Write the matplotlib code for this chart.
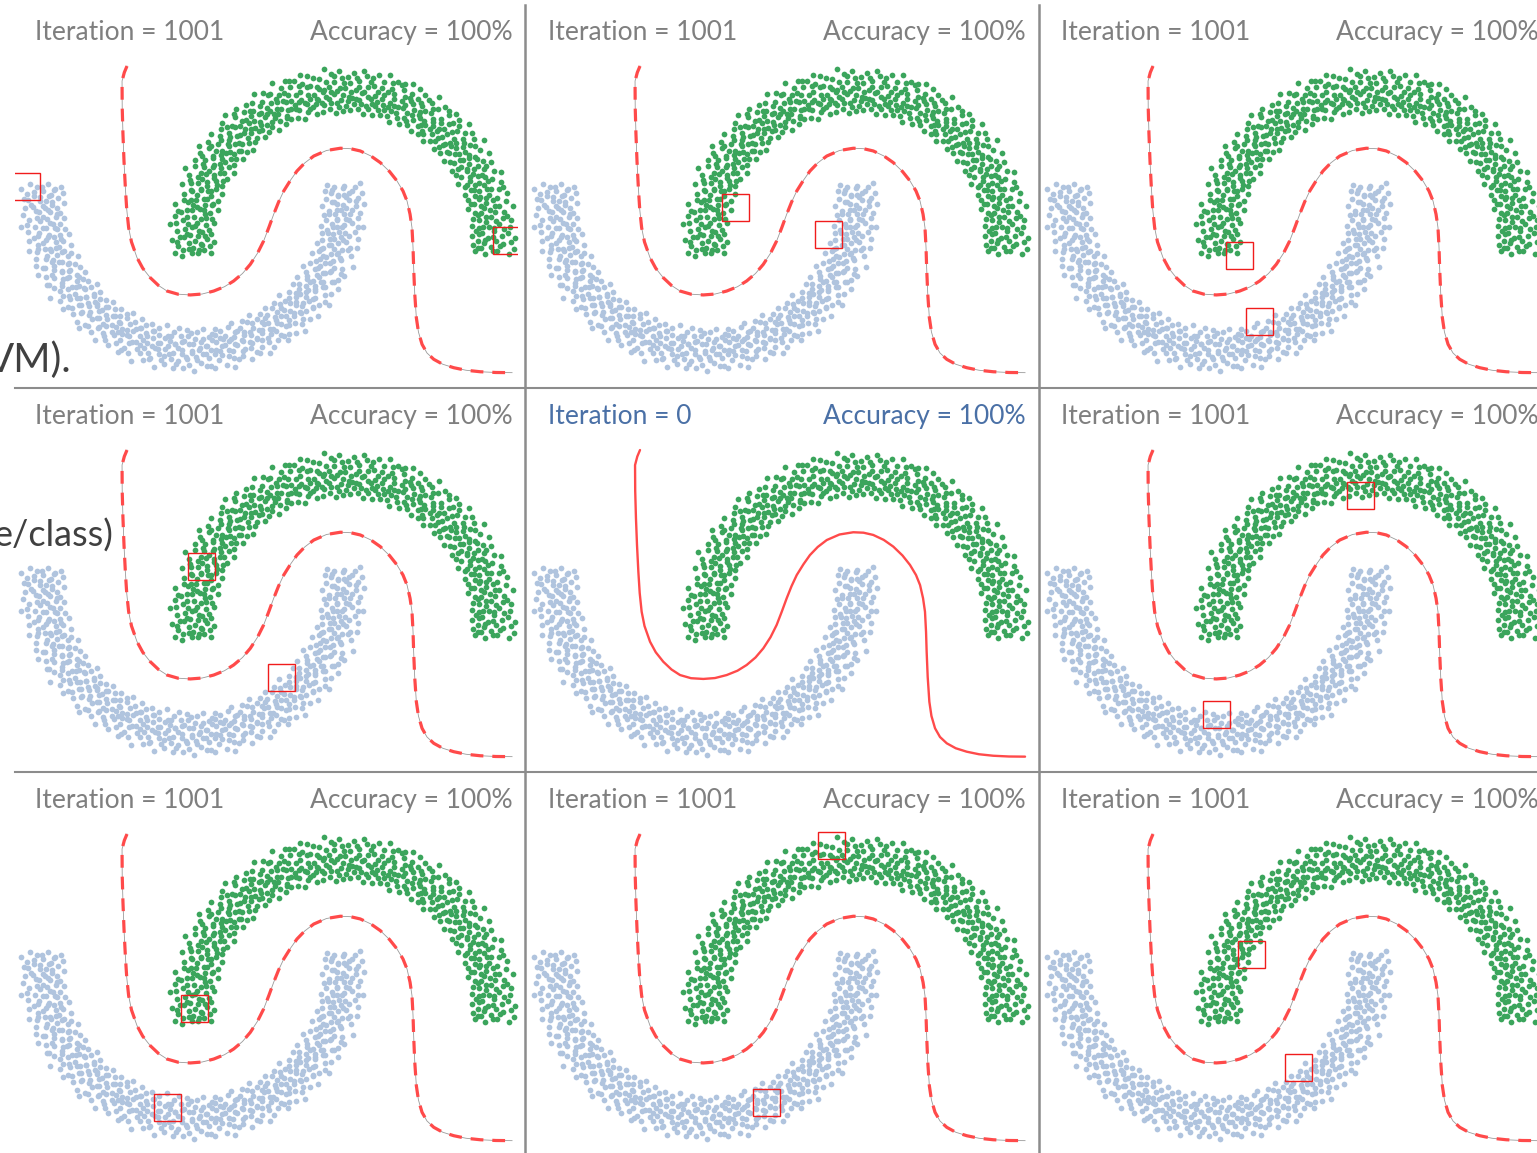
import numpy as np
import matplotlib
matplotlib.use('Agg')
import matplotlib.pyplot as plt
from matplotlib.lines import Line2D
from matplotlib.patches import Rectangle

plt.rcParams['font.family'] = ['Lato', 'DejaVu Sans']

# moon points as (angle in degrees, distance from moon centre)
green_pts = [
    (-4.8, .95), (-4.3, 1.11), (-3.9, .88), (-3.4, 1.03), (-2.7, .92), (-2.2, 1.14), (-1.8, .99), (-1.1, .87), (-0.7, 1.07), (-0.3, .94),
    (0.3, 1.02), (0.6, .90), (1.2, 1.15), (1.6, .97), (2.3, 1.06), (2.7, .86), (3.1, 1.10), (3.8, .93), (4.2, 1.01), (4.7, .89),
    (5.1, 1.12), (5.7, .98), (6.0, .91), (6.6, 1.05), (7.2, .87), (7.5, 1.13), (8.1, .96), (8.6, 1.08), (9.2, .92), (9.6, 1.00),
    (10.2, .88), (10.5, 1.09), (11.1, 1.03), (11.7, .94), (12.0, 1.16), (12.6, .90), (13.3, 1.04), (13.7, .97), (14.1, 1.12), (14.8, .86),
    (15.2, .99), (15.9, 1.07), (16.3, .91), (16.8, 1.14), (17.4, .95), (17.8, 1.02), (18.5, .88), (18.9, 1.10), (19.4, .93), (19.8, 1.05),
    (20.4, .97), (20.8, 1.13), (21.3, .87), (21.9, 1.01), (22.2, .92), (22.9, 1.08), (23.3, .96), (23.8, 1.15), (24.4, .89), (24.7, 1.04),
    (25.3, 1.11), (25.6, .94), (26.2, 1.00), (26.9, .86), (27.3, 1.06), (27.7, .98), (28.4, 1.12), (28.8, .90), (29.3, 1.03), (29.9, .95),
    (30.1, 1.08), (30.7, .88), (31.2, 1.14), (31.6, .99), (32.3, .93), (32.8, 1.05), (33.2, .87), (33.9, 1.10), (34.3, .97), (34.8, 1.02),
    (35.4, .91), (35.8, 1.16), (36.3, 1.01), (36.7, .89), (37.4, 1.07), (37.9, .95), (38.2, 1.11), (38.8, .86), (39.3, 1.04), (39.7, .98),
    (40.2, 1.13), (40.9, .92), (41.3, 1.00), (41.8, 1.09), (42.4, .88), (42.7, .97), (43.3, 1.15), (43.9, .94), (44.2, 1.06), (44.8, .90),
    (45.3, 1.03), (45.7, .87), (46.4, 1.12), (46.8, .96), (47.1, 1.08), (47.7, .91), (48.3, 1.01), (48.6, 1.14), (49.2, .89), (49.8, .99),
    (50.1, 1.10), (50.6, .93), (51.3, 1.05), (51.7, .86), (52.2, .98), (52.9, 1.13), (53.4, .90), (53.8, 1.02), (54.3, 1.09), (54.9, .95),
    (55.2, .88), (55.8, 1.07), (56.1, .97), (56.7, 1.16), (57.3, .92), (57.8, 1.03), (58.4, .87), (58.7, 1.11), (59.1, .99), (59.7, 1.05),
    (60.3, .94), (60.8, 1.12), (61.2, .89), (61.9, 1.00), (62.3, 1.08), (62.6, .91), (63.4, 1.14), (63.8, .96), (64.3, 1.04), (64.7, .87),
    (65.2, 1.06), (65.9, .98), (66.2, 1.15), (66.6, .90), (67.3, 1.02), (67.8, .93), (68.2, 1.09), (68.9, .86), (69.3, 1.12), (69.6, .97),
    (70.4, 1.01), (70.7, .89), (71.2, 1.13), (71.8, .95), (72.1, 1.07), (72.7, .92), (73.4, 1.04), (73.8, .88), (74.2, 1.16), (74.9, .99),
    (75.1, .91), (75.6, 1.10), (76.3, .96), (76.9, 1.03), (77.2, .87), (77.8, 1.14), (78.3, .94), (78.6, 1.06), (79.3, .90), (79.7, 1.11),
    (80.2, .98), (80.8, 1.05), (81.3, .86), (81.7, 1.12), (82.4, .93), (82.8, 1.00), (83.1, 1.15), (83.7, .89), (84.4, 1.08), (84.8, .96),
    (85.3, 1.02), (85.6, .92), (86.2, 1.13), (86.9, .88), (87.3, 1.06), (87.7, .97), (88.4, 1.10), (88.9, .91), (89.2, 1.03), (89.8, .87),
    (90.3, 1.09), (90.7, .95), (91.4, 1.14), (91.8, .90), (92.2, 1.01), (92.9, .86), (93.3, 1.07), (93.6, .99), (94.2, 1.12), (94.8, .93),
    (95.1, 1.04), (95.8, .89), (96.3, 1.16), (96.7, .97), (97.2, 1.02), (97.9, .92), (98.3, 1.10), (98.7, .88), (99.4, 1.05), (99.8, .96),
    (100.4, 1.11), (100.9, .94), (101.2, 1.00), (101.6, .87), (102.3, 1.13), (102.8, .98), (103.2, 1.06), (103.9, .91), (104.3, 1.15), (104.7, .95),
    (105.2, .90), (105.7, 1.08), (106.4, .99), (106.8, 1.12), (107.1, .86), (107.7, 1.03), (108.3, .93), (108.9, 1.09), (109.2, .97), (109.8, 1.14),
    (110.1, .88), (110.6, 1.05), (111.3, .95), (111.9, 1.11), (112.2, 1.01), (112.7, .89), (113.4, 1.07), (113.8, .92), (114.1, 1.16), (114.8, .98),
    (115.3, 1.03), (115.7, .87), (116.2, 1.10), (116.9, .96), (117.3, 1.04), (117.6, .91), (118.2, 1.13), (118.8, .94), (119.3, 1.00), (119.9, .86),
    (120.2, 1.08), (120.8, .99), (121.1, 1.15), (121.7, .90), (122.4, 1.02), (122.8, .93), (123.2, 1.11), (123.9, .88), (124.3, 1.06), (124.6, .97),
    (125.3, 1.12), (125.8, .92), (126.1, 1.04), (126.7, .87), (127.4, 1.09), (127.8, .96), (128.2, 1.01), (128.9, 1.14), (129.3, .90), (129.7, 1.05),
    (130.1, .95), (130.8, 1.10), (131.3, .89), (131.6, 1.03), (132.2, .98), (132.9, 1.16), (133.4, .91), (133.7, 1.07), (134.3, .86), (134.8, 1.00),
    (135.4, 1.13), (135.9, .94), (136.2, 1.05), (136.8, .88), (137.3, 1.11), (137.7, .97), (138.1, 1.02), (138.8, .92), (139.2, 1.08), (139.9, .99),
    (140.3, .87), (140.7, 1.14), (141.4, .96), (141.8, 1.06), (142.2, .90), (142.9, 1.01), (143.3, 1.12), (143.6, .93), (144.2, 1.04), (144.8, .89),
    (145.1, 1.09), (145.6, .98), (146.3, 1.15), (146.9, .91), (147.2, 1.03), (147.8, .86), (148.4, 1.10), (148.7, .95), (149.3, 1.07), (149.8, .92),
    (150.2, 1.00), (150.9, 1.13), (151.3, .88), (151.7, 1.05), (152.4, .97), (152.8, 1.11), (153.1, .90), (153.7, 1.02), (154.4, .94), (154.9, 1.16),
    (155.2, .89), (155.8, 1.06), (156.3, .99), (156.6, 1.12), (157.2, .92), (157.9, 1.04), (158.3, .87), (158.8, 1.09), (159.4, .96), (159.7, 1.01),
    (160.3, 1.14), (160.8, .93), (161.1, 1.07), (161.7, .88), (162.3, 1.02), (162.9, .97), (163.2, 1.11), (163.6, .90), (164.4, 1.05), (164.8, .95),
    (165.1, 1.10), (165.7, .86), (166.2, 1.03), (166.9, .98), (167.3, 1.15), (167.8, .91), (168.4, 1.06), (168.7, .94), (169.2, 1.12), (169.9, .89),
    (170.4, 1.01), (170.8, .96), (171.3, 1.13), (171.7, .87), (172.2, 1.08), (172.9, .92), (173.3, 1.04), (173.8, .99), (174.1, 1.16), (174.7, .90),
    (175.2, 1.06), (175.9, .94), (176.3, 1.11), (176.6, .88), (177.2, 1.02), (177.8, .97), (178.4, 1.09), (178.9, .91), (179.3, 1.14), (179.8, .86),
    (180.3, 1.03), (180.7, .95), (181.4, 1.10), (181.8, .89), (182.2, 1.00), (182.9, 1.07), (183.3, .93), (183.7, 1.12), (184.2, .97), (184.6, .88),
]
green_pts_extra = [
    (-3.6, 1.00), (-2.5, .90), (-1.4, 1.05), (-0.1, 1.12), (0.9, .95), (1.9, 1.00), (3.4, .91), (4.5, 1.08), (5.4, 1.01), (6.3, .94),
    (7.9, 1.03), (8.9, 1.11), (9.9, .97), (11.4, .92), (12.3, 1.00), (13.0, 1.07), (14.5, .95), (15.6, 1.04), (16.5, .89), (17.2, 1.00),
    (18.2, .96), (19.1, 1.13), (20.1, 1.02), (21.6, .94), (22.6, 1.05), (23.5, .99), (24.9, .91), (25.9, 1.03), (27.0, .95), (28.1, 1.08),
    (29.0, 1.00), (30.4, .96), (31.9, 1.05), (32.5, .91), (33.6, 1.01), (35.0, .95), (36.0, 1.09), (37.1, .97), (38.5, 1.02), (39.9, .92),
    (40.6, 1.05), (41.6, .96), (43.0, 1.01), (44.0, .93), (45.0, 1.09), (46.1, 1.00), (47.4, .94), (48.0, 1.06), (49.5, .97), (50.4, 1.03),
    (51.0, 1.12), (52.6, .95), (53.1, 1.00), (54.6, .91), (55.5, 1.04), (56.4, .94), (57.5, 1.10), (58.1, .97), (59.4, 1.01), (60.6, 1.06),
    (61.5, .96), (62.9, 1.03), (63.6, .92), (64.9, 1.09), (65.6, 1.00), (66.9, 1.05), (68.0, .97), (68.5, 1.13), (69.9, .93), (71.0, 1.04),
    (71.5, .98), (72.4, 1.11), (73.6, .95), (74.5, 1.02), (75.9, 1.06), (76.6, .93), (77.5, 1.00), (78.9, .97), (80.0, 1.08), (80.5, .92),
    (81.9, 1.01), (83.4, .95), (84.1, 1.04), (85.0, 1.10), (86.5, .96), (87.0, 1.00), (88.1, .94), (89.5, 1.06), (90.0, .98), (91.1, 1.03),
    (92.5, .93), (93.0, 1.11), (94.5, 1.00), (95.4, .96), (96.0, 1.07), (97.5, 1.01), (98.5, .94), (99.1, 1.03), (100.1, .97), (101.9, 1.06),
    (102.5, .92), (103.5, 1.01), (104.5, 1.09), (105.5, .96), (106.1, 1.04), (107.4, .98), (108.6, 1.13), (109.5, .94), (110.4, 1.00), (111.6, 1.07),
    (112.5, .95), (113.1, 1.02), (114.4, .91), (115.0, 1.05), (116.5, .99), (117.0, 1.10), (118.5, .97), (119.6, 1.03), (120.5, .93), (121.4, 1.06),
    (122.1, .98), (123.5, 1.02), (124.9, .95), (125.5, 1.07), (126.4, 1.00), (127.1, .93), (128.5, 1.04), (129.0, .97), (130.4, 1.12), (131.0, 1.00),
    (132.5, .94), (133.1, 1.05), (134.0, .99), (135.1, 1.09), (136.5, .96), (137.0, 1.03), (138.4, .91), (139.5, 1.01), (140.0, 1.06), (141.1, .93),
    (142.5, .98), (143.9, 1.09), (144.5, 1.00), (145.9, .95), (146.6, 1.04), (147.5, .97), (148.1, 1.12), (149.0, 1.00), (150.5, .94), (151.0, 1.07),
    (152.1, 1.01), (153.4, .96), (154.1, 1.05), (155.5, .92), (156.0, 1.03), (157.5, .98), (158.1, 1.10), (159.0, .94), (160.0, 1.01), (161.4, 1.06),
    (162.6, .95), (163.9, 1.02), (164.1, .91), (165.4, 1.07), (166.5, 1.00), (167.0, .95), (168.1, 1.03), (169.5, 1.10), (170.1, .93), (171.0, 1.05),
    (172.5, .98), (173.5, 1.12), (174.4, 1.01), (175.5, .96), (176.9, 1.04), (177.5, .92), (178.1, 1.06), (179.5, .99), (180.0, 1.11), (181.1, .94),
    (182.5, 1.03), (183.0, .96), (184.0, 1.01), (184.9, 1.08),
]
blue_pts = [
    (174.3, .97), (174.9, 1.09), (175.2, .88), (175.8, 1.04), (176.4, .93), (176.7, 1.15), (177.1, 1.00), (177.8, .87), (178.3, 1.11), (178.6, .95),
    (179.2, 1.06), (179.7, .90), (180.3, 1.13), (180.8, .98), (181.1, 1.02), (181.9, .86), (182.2, 1.08), (182.6, .94), (183.4, 1.12), (183.8, .99),
    (184.1, .91), (184.7, 1.05), (185.3, .96), (185.6, 1.14), (186.2, .89), (186.9, 1.01), (187.4, 1.10), (187.8, .92), (188.3, 1.03), (188.7, .87),
    (189.4, 1.16), (189.8, .97), (190.2, 1.07), (190.9, .90), (191.3, 1.00), (191.6, 1.12), (192.2, .94), (192.8, 1.05), (193.3, .88), (193.9, 1.09),
    (194.2, .99), (194.6, 1.13), (195.3, .92), (195.9, 1.02), (196.1, .86), (196.8, 1.08), (197.4, .96), (197.7, 1.15), (198.3, .91), (198.8, 1.04),
    (199.1, 1.10), (199.8, .95), (200.3, 1.01), (200.7, .87), (201.2, 1.12), (201.9, .93), (202.4, 1.06), (202.7, .98), (203.2, 1.14), (203.9, .89),
    (204.3, 1.03), (204.6, .92), (205.2, 1.09), (205.8, .97), (206.4, 1.15), (206.7, .86), (207.3, 1.04), (207.9, .94), (208.2, 1.11), (208.8, 1.00),
    (209.1, .90), (209.7, 1.07), (210.4, .96), (210.8, 1.13), (211.3, .88), (211.6, 1.02), (212.2, .99), (212.9, 1.10), (213.4, .93), (213.8, 1.05),
    (214.2, .87), (214.9, 1.16), (215.3, .95), (215.7, 1.03), (216.4, .91), (216.8, 1.08), (217.1, .98), (217.7, 1.12), (218.3, .89), (218.9, 1.01),
    (219.2, 1.06), (219.6, .94), (220.3, 1.14), (220.9, .90), (221.4, 1.00), (221.7, .86), (222.2, 1.09), (222.8, .97), (223.3, 1.04), (223.9, .92),
    (224.1, 1.11), (224.8, .99), (225.2, .88), (225.7, 1.07), (226.3, .95), (226.9, 1.13), (227.2, .91), (227.8, 1.02), (228.4, .96), (228.7, 1.15),
    (229.3, .89), (229.9, 1.05), (230.2, .98), (230.6, 1.10), (231.3, .93), (231.8, 1.01), (232.4, .87), (232.7, 1.12), (233.1, .97), (233.9, 1.06),
    (234.2, 1.03), (234.8, .90), (235.3, 1.15), (235.7, .95), (236.1, 1.08), (236.8, .88), (237.4, 1.00), (237.9, 1.11), (238.3, .92), (238.6, 1.04),
    (239.2, .96), (239.9, 1.13), (240.3, .89), (240.7, 1.02), (241.4, .99), (241.8, 1.09), (242.1, .86), (242.7, 1.06), (243.3, .94), (243.9, 1.14),
    (244.2, 1.01), (244.8, .91), (245.3, 1.10), (245.6, .97), (246.2, 1.05), (246.9, .87), (247.3, 1.12), (247.7, .93), (248.4, 1.03), (248.8, .98),
    (249.1, 1.16), (249.7, .90), (250.3, 1.04), (250.9, .95), (251.2, 1.09), (251.8, .88), (252.4, 1.01), (252.7, 1.13), (253.3, .92), (253.8, 1.07),
    (254.1, .97), (254.7, 1.11), (255.4, .89), (255.8, 1.03), (256.2, .94), (256.9, 1.15), (257.3, .99), (257.6, 1.06), (258.2, .86), (258.9, 1.10),
    (259.3, 1.02), (259.8, .93), (260.1, 1.12), (260.7, .96), (261.4, 1.05), (261.9, .90), (262.2, 1.08), (262.8, .98), (263.3, 1.14), (263.7, .87),
    (264.4, 1.00), (264.8, 1.09), (265.2, .92), (265.9, 1.04), (266.3, .95), (266.6, 1.13), (267.2, .88), (267.9, 1.07), (268.3, .97), (268.7, 1.11),
    (269.2, .90), (269.8, 1.03), (270.4, 1.15), (270.7, .94), (271.1, 1.06), (271.8, .89), (272.3, 1.01), (272.9, 1.10), (273.2, .96), (273.6, 1.04),
    (274.3, .87), (274.9, 1.12), (275.2, .99), (275.8, 1.07), (276.4, .93), (276.7, 1.02), (277.3, 1.14), (277.8, .91), (278.1, 1.05), (278.9, .97),
    (279.3, 1.09), (279.6, .88), (280.2, 1.03), (280.9, .95), (281.4, 1.13), (281.7, .90), (282.3, 1.00), (282.8, 1.08), (283.2, .94), (283.9, 1.16),
    (284.2, .98), (284.7, 1.05), (285.3, .89), (285.9, 1.11), (286.4, .96), (286.8, 1.02), (287.1, .87), (287.7, 1.10), (288.3, .93), (288.9, 1.06),
    (289.4, 1.01), (289.8, .92), (290.2, 1.14), (290.6, .97), (291.3, 1.07), (291.9, .88), (292.2, 1.04), (292.8, .99), (293.4, 1.12), (293.7, .90),
    (294.3, 1.03), (294.9, .95), (295.1, 1.09), (295.7, .86), (296.4, 1.15), (296.8, .98), (297.2, 1.01), (297.9, .91), (298.3, 1.06), (298.6, 1.13),
    (299.2, .94), (299.8, 1.04), (300.3, .89), (300.9, 1.10), (301.2, .97), (301.7, 1.02), (302.4, .92), (302.8, 1.08), (303.3, .87), (303.9, 1.14),
    (304.1, 1.00), (304.7, .96), (305.3, 1.11), (305.8, .90), (306.2, 1.05), (306.9, .98), (307.4, 1.13), (307.7, .88), (308.2, 1.03), (308.8, .94),
    (309.3, 1.07), (309.6, .91), (310.2, 1.16), (310.9, .99), (311.3, 1.02), (311.7, .86), (312.4, 1.09), (312.8, .95), (313.1, 1.04), (313.9, .92),
    (314.3, 1.12), (314.8, .97), (315.2, 1.06), (315.7, .89), (316.4, 1.01), (316.8, 1.14), (317.3, .93), (317.9, 1.08), (318.2, .96), (318.6, 1.03),
    (319.4, .88), (319.9, 1.10), (320.3, .98), (320.7, 1.05), (321.2, .91), (321.9, 1.15), (322.3, .95), (322.8, 1.02), (323.1, .87), (323.7, 1.09),
    (324.3, 1.00), (324.9, .93), (325.2, 1.12), (325.6, .97), (326.3, 1.06), (326.8, .90), (327.4, 1.03), (327.9, .99), (328.2, 1.14), (328.7, .86),
    (329.1, 1.08), (329.8, .94), (330.4, 1.01), (330.8, 1.11), (331.3, .89), (331.7, 1.04), (332.2, .96), (332.9, 1.13), (333.3, .92), (333.8, 1.05),
    (334.1, .98), (334.7, 1.10), (335.4, .87), (335.8, 1.02), (336.2, .95), (336.9, 1.16), (337.3, .91), (337.6, 1.07), (338.2, .99), (338.8, 1.03),
    (339.3, .93), (339.9, 1.12), (340.2, .88), (340.8, 1.05), (341.4, .97), (341.7, 1.09), (342.3, .90), (342.9, 1.01), (343.2, 1.14), (343.6, .95),
    (344.2, 1.06), (344.8, .89), (345.3, 1.02), (345.9, .96), (346.1, 1.13), (346.7, .92), (347.4, 1.04), (347.8, .87), (348.3, 1.10), (348.9, .98),
    (349.2, 1.01), (349.7, .94), (350.4, 1.15), (350.8, .90), (351.1, 1.07), (351.9, .97), (352.3, 1.03), (352.6, .88), (353.2, 1.11), (353.8, .95),
    (354.3, 1.05), (354.9, .91), (355.2, 1.12), (355.7, .99), (356.4, 1.02), (356.8, .86), (357.3, 1.09), (357.9, .96), (358.2, 1.14), (358.7, .93),
    (359.4, 1.04), (359.8, .89), (360.3, 1.10), (360.9, .97), (361.2, 1.01), (361.7, 1.13), (362.4, .92), (362.8, 1.06), (363.3, .88), (363.9, 1.00),
    (364.2, 1.08), (364.6, .94), (365.3, 1.12), (365.8, .90),
]
blue_pts_extra = [
    (175.5, 1.01), (176.1, .92), (177.5, 1.06), (178.9, .96), (179.5, 1.02), (180.6, 1.10), (181.5, .94), (182.9, 1.00), (183.1, 1.07), (184.4, .97),
    (185.0, 1.03), (186.5, .91), (187.1, 1.05), (188.0, .98), (189.0, 1.12), (190.5, .95), (191.0, 1.02), (192.5, .93), (193.6, 1.06), (194.9, 1.00),
    (195.6, .96), (196.5, 1.04), (197.1, .92), (198.0, 1.09), (199.5, 1.01), (200.0, .97), (201.6, 1.05), (202.1, .94), (203.5, 1.02), (204.9, 1.10),
    (205.5, .99), (206.0, 1.03), (207.6, .93), (208.5, 1.07), (209.5, 1.00), (210.1, .95), (211.0, 1.12), (212.5, .98), (213.0, 1.04), (214.6, .92),
    (215.0, 1.08), (216.1, 1.00), (217.4, .96), (218.1, 1.05), (219.9, .94), (220.6, 1.02), (221.0, 1.10), (222.5, .97), (223.6, 1.03), (224.5, .93),
    (225.5, 1.06), (226.0, 1.00), (227.5, .95), (228.1, 1.04), (229.6, 1.11), (230.9, .96), (231.1, 1.02), (232.0, .92), (233.5, 1.07), (234.5, .99),
    (235.9, 1.03), (236.5, .94), (237.0, 1.09), (238.9, 1.00), (239.5, .96), (240.0, 1.05), (241.1, .91), (242.4, 1.02), (243.5, .98), (244.5, 1.12),
    (245.0, 1.01), (246.5, .95), (247.0, 1.04), (248.1, .93), (249.5, 1.07), (250.5, 1.00), (251.5, .97), (252.0, 1.05), (253.6, .92), (254.4, 1.02),
    (255.0, 1.10), (256.5, .99), (257.0, 1.03), (258.6, .95), (259.5, 1.07), (260.4, 1.00), (261.1, .93), (262.5, 1.04), (263.0, .98), (264.1, 1.11),
    (265.5, .96), (266.0, 1.01), (267.6, 1.06), (268.0, .92), (269.5, 1.02), (270.0, .97), (271.5, 1.08), (272.5, 1.00), (273.9, .94), (274.6, 1.04),
    (275.5, .99), (276.1, 1.12), (277.6, .95), (278.5, 1.02), (279.0, .92), (280.5, 1.06), (281.0, 1.00), (282.0, .96), (283.5, 1.04), (284.4, 1.10),
    (285.0, .97), (286.1, 1.01), (287.5, .93), (288.0, 1.07), (289.1, 1.00), (290.9, .95), (291.6, 1.03), (292.5, 1.11), (293.1, .97), (294.6, 1.02),
    (295.5, .92), (296.1, 1.05), (297.5, .99), (298.0, 1.08), (299.5, .96), (300.6, 1.01), (301.0, .93), (302.1, 1.04), (303.6, 1.10), (304.5, .98),
    (305.0, 1.02), (306.5, .94), (307.1, 1.06), (308.5, 1.00), (309.0, .96), (310.6, 1.03), (311.0, 1.11), (312.0, .92), (313.5, 1.05), (314.0, .99),
    (315.5, 1.02), (316.0, .95), (317.6, 1.08), (318.9, 1.00), (319.6, .93), (320.0, 1.04), (321.6, .98), (322.0, 1.12), (323.5, 1.01), (324.6, .96),
    (325.9, 1.05), (326.0, .92), (327.1, 1.02), (328.5, .97), (329.4, 1.09), (330.0, 1.00), (331.0, .95), (332.5, 1.04), (333.0, 1.11), (334.4, .94),
    (335.0, 1.01), (336.5, .97), (337.9, 1.06), (338.5, .92), (339.5, 1.03), (340.4, 1.00), (341.0, .96), (342.5, 1.10), (343.9, .98), (344.5, 1.04),
    (345.5, .93), (346.4, 1.07), (347.0, 1.00), (348.5, .95), (349.9, 1.02), (350.1, 1.12), (351.4, .97), (352.0, 1.05), (353.5, .91), (354.1, 1.01),
    (355.5, .96), (356.0, 1.06), (357.6, 1.00), (358.5, .94), (359.0, 1.09), (360.6, 1.02), (361.5, .97), (362.0, 1.04), (363.6, .93), (364.9, 1.01),
]
green_center = (0.0, 0.0)
blue_center = (-1.0, 0.29)

# decision boundary
boundary = [
    (-1.44, 1.173), (-1.458, 1.13), (-1.473, 1.073), (-1.472, 0.9), (-1.467, 0.72), (-1.46, 0.54),
    (-1.451, 0.362), (-1.442, 0.22), (-1.429, 0.095), (-1.41, 0.0), (-1.373, -0.105), (-1.335, -0.175),
    (-1.285, -0.238), (-1.23, -0.29), (-1.173, -0.327), (-1.10, -0.348), (-1.018, -0.353), (-0.94, -0.347),
    (-0.862, -0.327), (-0.79, -0.298), (-0.729, -0.26), (-0.67, -0.21), (-0.618, -0.149), (-0.57, -0.075),
    (-0.529, 0.007), (-0.495, 0.095), (-0.462, 0.185), (-0.43, 0.265), (-0.395, 0.34), (-0.35, 0.412),
    (-0.307, 0.473), (-0.255, 0.527), (-0.195, 0.573), (-0.11, 0.61), (-0.018, 0.625), (0.05, 0.622),
    (0.115, 0.607), (0.185, 0.574), (0.249, 0.529), (0.31, 0.47), (0.36, 0.407), (0.40, 0.34),
    (0.427, 0.273), (0.447, 0.185), (0.46, 0.095), (0.467, -0.04), (0.471, -0.171), (0.478, -0.34),
    (0.489, -0.505), (0.503, -0.6), (0.527, -0.682), (0.56, -0.74), (0.605, -0.782), (0.665, -0.815),
    (0.738, -0.838), (0.82, -0.855), (0.915, -0.865), (1.02, -0.87), (1.127, -0.871),
]

iterations = [[1001, 1001, 1001], [1001, 0, 1001], [1001, 1001, 1001]]
accuracy = [[100, 100, 100], [100, 100, 100], [100, 100, 100]]

# centres of the red boxes in every panel (row, col)
boxes = {
    (0, 0): [(-2.113, 0.37), (1.09, 0.01)],
    (0, 1): [(-0.803, 0.23), (-0.183, 0.05)],
    (0, 2): [(-0.863, -0.087), (-0.73, -0.53)],
    (1, 0): [(-0.943, 0.397), (-0.41, -0.343)],
    (1, 1): [],
    (1, 2): [(-0.057, 0.87), (-1.017, -0.59)],
    (2, 0): [(-0.987, 0.007), (-1.169, -0.65)],
    (2, 1): [(-0.163, 1.097), (-0.597, -0.617)],
    (2, 2): [(-0.783, 0.37), (-0.47, -0.383)],
}
box_size = 0.18


def to_xy(pts, center):
    a = np.radians([p[0] for p in pts])
    r = np.array([p[1] for p in pts])
    return center[0] + r * np.cos(a), center[1] + r * np.sin(a)


gx, gy = to_xy(green_pts + green_pts_extra, green_center)
bx, by = to_xy(blue_pts + blue_pts_extra, blue_center)
lx = [p[0] for p in boundary]
ly = [p[1] for p in boundary]

W, H = 1537, 1153
fig = plt.figure(figsize=(W / 100, H / 100), dpi=100)
fig.patch.set_facecolor('white')

gray = '#7f7f7f'
blue_txt = '#4a70a6'
for r in range(3):
    for c in range(3):
        x0 = 513 * c
        y0 = 384 * r
        ax = fig.add_axes([(x0 + 15) / W, 1 - (y0 + 384) / H, 503 / W, 384 / H])
        ax.set_xlim(-2.1867, 1.1667)
        ax.set_ylim(-0.9467, 1.6133)
        ax.axis('off')
        ax.scatter(bx, by, s=17, color='#b0c4de', linewidths=0, zorder=2)
        ax.scatter(gx, gy, s=17, color='#3ba55c', linewidths=0, zorder=2)
        center = (r == 1 and c == 1)
        if center:
            ax.plot(lx, ly, color='#ff4a4a', lw=1.7, zorder=3,
                    solid_capstyle='round', solid_joinstyle='round')
        else:
            ax.plot(lx, ly, color='#9a9a9a', lw=0.6, zorder=3)
            ax.plot(lx, ly, color='#ff4a4a', lw=2.3, zorder=4, dashes=(4.0, 2.8))
        for bxc, byc in boxes[(r, c)]:
            ax.add_patch(Rectangle((bxc - box_size / 2, byc - box_size / 2), box_size, box_size,
                                   fill=False, edgecolor='#f01c1c', lw=1.0, zorder=5))
        col = blue_txt if center else gray
        fig.text((x0 + 35) / W, 1 - (y0 + 40) / H, f'Iteration = {iterations[r][c]}',
                 ha='left', va='baseline', fontsize=19, color=col)
        fig.text((x0 + 513) / W, 1 - (y0 + 40) / H, f'Accuracy = {accuracy[r][c]}%',
                 ha='right', va='baseline', fontsize=19, color=col)

# panel dividers
for xv in [525, 1039]:
    fig.add_artist(Line2D([xv / W, xv / W], [1 - 5 / H, 0], transform=fig.transFigure,
                          color='#8c8c8c', lw=1.8))
for yh in [388, 772]:
    fig.add_artist(Line2D([15 / W, 1], [1 - yh / H, 1 - yh / H], transform=fig.transFigure,
                          color='#8c8c8c', lw=1.5))

# slide text cut off at the left edge
fig.text(72 / W, 1 - 372 / H, 'VM).', ha='right', va='baseline', fontsize=29, color='#404040')
fig.text(113 / W, 1 - 547 / H, 'e/class)', ha='right', va='baseline', fontsize=26, color='#404040')

fig.savefig('out.png', dpi=100, facecolor='white')
